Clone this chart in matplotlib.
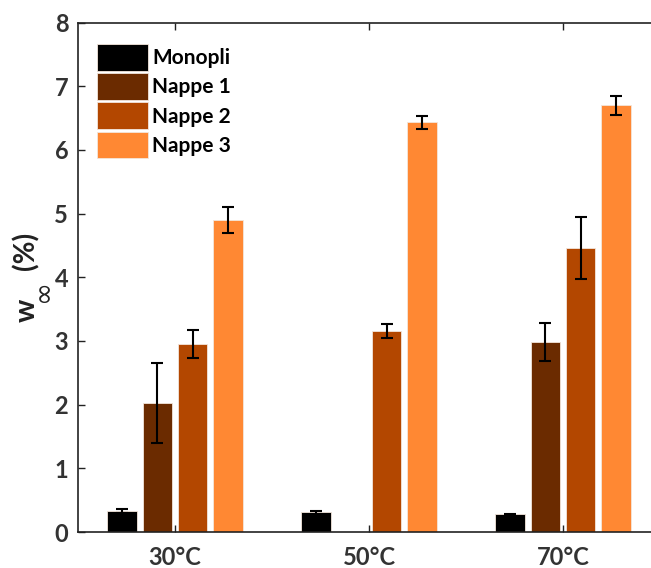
import numpy as np
import matplotlib.pyplot as plt

plt.rcParams['font.family'] = ['Lato', 'DejaVu Sans']

temps = ['30°C', '50°C', '70°C']
series = ['Monopli', 'Nappe 1', 'Nappe 2', 'Nappe 3']
colors = ['#000000', '#6B2B00', '#B34700', '#FF8833']

# w_inf values (%) per series, for 30, 50, 70 °C (nan = no bar)
values = {
    'Monopli': [0.33, 0.31, 0.28],
    'Nappe 1': [2.02, np.nan, 2.98],
    'Nappe 2': [2.95, 3.16, 4.46],
    'Nappe 3': [4.90, 6.43, 6.70],
}
errors = {
    'Monopli': [0.03, 0.02, 0.01],
    'Nappe 1': [0.63, np.nan, 0.30],
    'Nappe 2': [0.22, 0.11, 0.49],
    'Nappe 3': [0.20, 0.10, 0.145],
}

W, H = 651, 568
fig = plt.figure(figsize=(W / 100, H / 100), dpi=100)
ax = fig.add_axes([78 / W, 36 / H, 582 / W, 509.5 / H])

x = np.arange(1, len(temps) + 1)
step = 0.182
width = 0.15
for i, name in enumerate(series):
    pos = x + (i - 1.5) * step
    ax.bar(pos, values[name], width, color=colors[i], edgecolor='#f3e6dc',
           linewidth=0.6, label=name)
    ax.errorbar(pos, values[name], yerr=errors[name], fmt='none', ecolor='black',
                elinewidth=1.5, capsize=4.5, capthick=1.5)

ax.set_xlim(0.5, 3.5)
ax.set_ylim(0, 8)
ax.set_xticks(x)
ax.set_xticklabels(temps)
ax.set_yticks(range(0, 9))
ax.tick_params(direction='in', length=5, width=1, labelsize=17, colors='#222222',
               labelcolor='#333333', top=True, pad=7)
ax.tick_params(axis='x', pad=10)
for lab in ax.get_xticklabels() + ax.get_yticklabels():
    lab.set_fontweight('bold')
for s in ax.spines.values():
    s.set_color('#222222')
    s.set_linewidth(1.2)

# y label: w with a large infinity subscript, then (%)
fig.text(27 / W, 1 - 310 / H, 'w', rotation=90, ha='center', va='center',
         fontsize=21, fontweight='bold', color='#222222')
fig.text(43 / W, 1 - 290 / H, '\u221e', rotation=90, ha='center', va='center',
         fontsize=20, family=['DejaVu Sans'], color='#222222')
fig.text(26 / W, 1 - 251 / H, '(%)', rotation=90, ha='center', va='center',
         fontsize=20, fontweight='bold', color='#222222')

leg = ax.legend(loc='upper left', frameon=False,
                prop={'weight': 'bold', 'size': 15},
                handlelength=2.45, handleheight=1.6, handletextpad=0.2,
                labelspacing=0.12, borderaxespad=0.5, bbox_to_anchor=(0.0, 0.995))

fig.savefig('out.png', dpi=100)
